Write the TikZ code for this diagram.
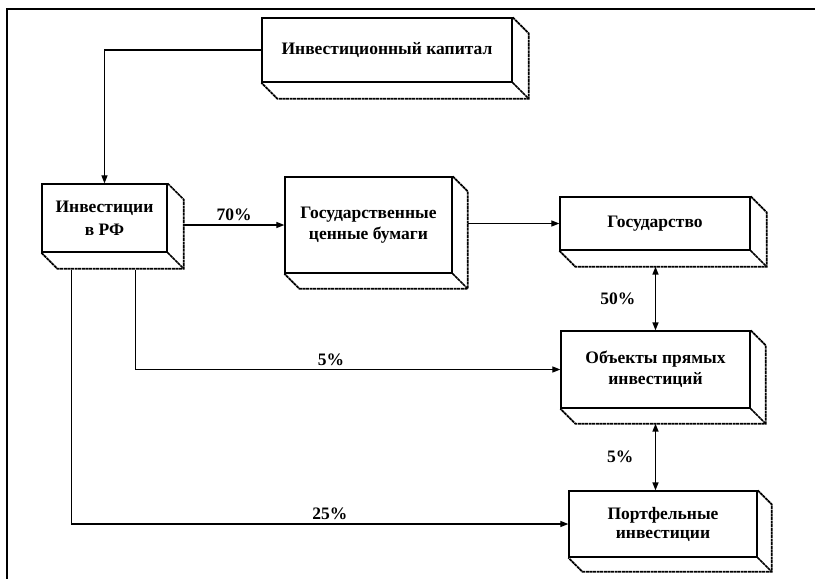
\documentclass[tikz,border=0pt]{standalone}
\usepackage{fontspec}
\setmainfont{Liberation Serif}
\usetikzlibrary{arrows.meta}

\tikzset{
  blok/.style={draw, line width=1.3pt, fill=white, inner sep=0pt, align=center,
    font=\bfseries\fontsize{17.5}{21}\selectfont},
  glub/.style={line width=1.7pt, dash pattern=on 3pt off 0.6pt},
  strel/.style={line width=1.2pt, -{Triangle[length=8pt,width=6pt]}},
  dvestrel/.style={line width=1.5pt, {Triangle[length=8pt,width=6pt]}-{Triangle[length=8pt,width=6pt]}},
  proc/.style={font=\bfseries\fontsize{17.5}{19}\selectfont}
}

\begin{document}
\begin{tikzpicture}[x=1pt,y=-1pt]
\useasboundingbox (0,0) rectangle (815,579);
\draw[line width=1.4pt] (7,579) -- (7,9) -- (815,9);

\node[blok, minimum width=250pt, minimum height=64pt] (kap) at (387,50) {Инвестиционный капитал};
\node[blok, minimum width=125pt, minimum height=68pt] (rf) at (104.5,218) {Инвестиции\\[2pt]в РФ};
\node[blok, minimum width=167pt, minimum height=96pt] (gcb) at (368.5,225) {Государственные\\ценные бумаги};
\node[blok, minimum width=190pt, minimum height=53pt] (gos) at (655,223.5) {Государство};
\node[blok, minimum width=189pt, minimum height=77pt] (obj) at (655.5,369.5) {Объекты прямых\\инвестиций};
\node[blok, minimum width=188pt, minimum height=66pt] (port) at (663,524) {Портфельные\\[-2pt]инвестиции};

\foreach \n/\d in {kap/16, rf/16, gcb/15, gos/16, obj/15, port/14} {
  \draw[glub] (\n.north east) -- ++(\d,\d) -- ([shift={(\d,\d)}]\n.south east)
    -- ([shift={(\d,\d)}]\n.south west) -- (\n.south west);
  \draw[glub] (\n.south east) -- ++(\d,\d);
}

\coordinate (rfa) at ([shift={(-33,17)}]rf.south);
\coordinate (rfb) at ([shift={(31,17)}]rf.south);
\coordinate (gosn) at ([yshift=-16pt]gos.south);
\coordinate (objn) at ([yshift=-15pt]obj.south);

\draw[strel] (kap.west) -| (rf.north);
\draw[strel] ([xshift=16pt]rf.east |- gcb.west) -- node[proc, above] {70\%} (gcb.west);
\draw[strel] ([xshift=15pt]gcb.east |- gos.west) -- (gos.west);
\draw[dvestrel] (gosn -| obj.north) -- node[proc, left=16pt] {50\%} (obj.north);
\draw[dvestrel] (objn) -- node[proc, left=18pt] {5\%} (objn |- port.north);
\draw[strel] (rfb) |- node[proc, above, pos=0.73] {5\%} (obj.west);
\draw[strel] (rfa) |- node[proc, above, pos=0.76] {25\%} (port.west);
\end{tikzpicture}
\end{document}
